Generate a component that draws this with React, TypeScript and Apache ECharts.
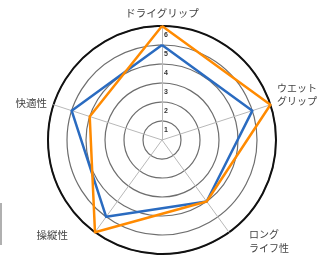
import React, { useEffect, useRef } from 'react';
import * as echarts from 'echarts';

const indicatorNames = ['ドライグリップ', '快適性', '操縦性', 'ロング\nライフ性', 'ウエット\nグリップ'];
const maxValue = 6;
const blueValues = [5, 5, 5, 4, 5];
const orangeValues = [6, 4, 6, 4, 6];

const nameColor = '#444';
const nameFont = 'Noto Sans CJK JP';

const nameFormatter = (name: string) => {
  switch (name) {
    case '操縦性':
      return '{ll|操縦性}';
    case 'ロング\nライフ性':
      return '{lr1|ロング}\n{lr2|ライフ性}';
    case 'ウエット\nグリップ':
      return '{ur1|ウエット}\n{ur2|グリップ}';
    default:
      return '{n|' + name + '}';
  }
};

const baseName = { fontSize: 10.5, height: 13, color: nameColor, fontFamily: nameFont };
const multiName = { fontSize: 10, height: 13.5, color: nameColor, fontFamily: nameFont };

export default function App() {
  const ref = useRef<HTMLDivElement>(null);
  useEffect(() => {
    if (!ref.current) return;
    const chart = echarts.init(ref.current, undefined, { renderer: 'svg' });
    const labelStyle = {
      show: true,
      fontSize: 7,
      fontWeight: 'bold' as const,
      color: '#333',
      margin: -4,
      align: 'center' as const,
      verticalAlign: 'top' as const,
      padding: [5, 0, 0, 0],
      formatter: (v: number) => (v === 0 ? '' : String(v)),
    };
    const indicators = indicatorNames.map((name, i) =>
      i === 0 ? { name, max: maxValue, min: 0, axisLabel: labelStyle } : { name, max: maxValue, min: 0 }
    );
    const center = [162, 140];
    const radius = 114;
    chart.setOption({
      animation: false,
      radar: [
        {
          center,
          radius,
          shape: 'circle',
          splitNumber: 6,
          startAngle: 90,
          indicator: indicators,
          nameGap: 7,
          axisName: {
            color: nameColor,
            fontSize: 10.5,
            fontFamily: nameFont,
            formatter: nameFormatter,
            rich: {
              n: { ...baseName },
              ll: { ...baseName, padding: [0, 23, 6, 0] },
              lr1: { ...multiName, padding: [5, 0, 0, 16] },
              lr2: { ...multiName, padding: [0, 0, 0, 16] },
              ur1: { ...multiName },
              ur2: { ...multiName, padding: [0, 0, 17, 0] },
            },
          },
          axisLine: { show: true, lineStyle: { color: '#b8b8b8', width: 1 } },
          axisTick: { show: false },
          axisLabel: { show: false },
          splitLine: { lineStyle: { color: '#6e6e6e', width: 1.2 } },
          splitArea: { show: false },
        },
        {
          center,
          radius,
          shape: 'circle',
          splitNumber: 1,
          startAngle: 90,
          indicator: indicatorNames.map((name) => ({ name, max: maxValue, min: 0 })),
          axisName: { show: false },
          axisLine: { show: false },
          axisTick: { show: false },
          axisLabel: { show: false },
          splitLine: { lineStyle: { color: '#111', width: 2 } },
          splitArea: { show: false },
          silent: true,
        },
      ],
      graphic: [
        { type: 'rect', shape: { x: 0, y: 203, width: 2, height: 42 }, style: { fill: '#b0b0b0' } },
      ],
      series: [
        {
          type: 'radar',
          radarIndex: 0,
          symbol: 'none',
          lineStyle: { color: '#2a6bc0', width: 2.5 },
          data: [{ value: blueValues, name: 'blue' }],
          z: 3,
        },
        {
          type: 'radar',
          radarIndex: 0,
          symbol: 'none',
          lineStyle: { color: '#ff8a00', width: 2.5 },
          data: [{ value: orangeValues, name: 'orange' }],
          z: 4,
        },
      ],
    });
    return () => chart.dispose();
  }, []);
  return <div ref={ref} style={{ position: 'fixed', left: 0, top: 0, width: 326, height: 255 }} />;
}
